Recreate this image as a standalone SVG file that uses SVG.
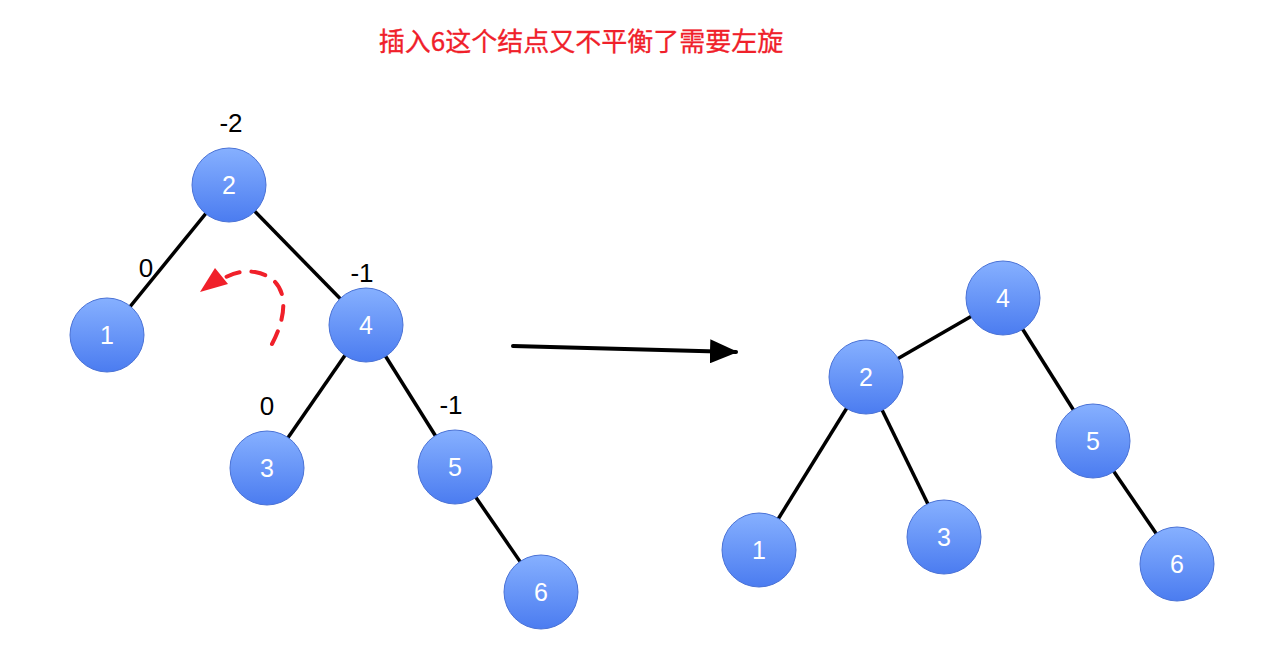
<svg xmlns="http://www.w3.org/2000/svg" width="1286" height="670" viewBox="0 0 1286 670">
<defs>
<linearGradient id="g" x1="0" y1="0" x2="0" y2="1">
<stop offset="0" stop-color="#86b0ff"/>
<stop offset="1" stop-color="#4b7cf0"/>
</linearGradient>
<marker id="ah" viewBox="0 0 28 24" refX="26" refY="12" markerWidth="28" markerHeight="24" markerUnits="userSpaceOnUse" orient="auto">
<path d="M0,0 L28,12 L0,24 z" fill="#000"/>
</marker>
</defs>
<style>
.n circle{fill:url(#g);stroke:#4a72d6;stroke-width:1}
.n text{fill:#fff;font-family:"Liberation Sans",Arial,sans-serif;font-size:25px;text-anchor:middle;dominant-baseline:central}
.e line{stroke:#000;stroke-width:3.5}
.lbl{font-family:"Liberation Sans",Arial,sans-serif;font-size:26px;fill:#000;text-anchor:middle}
</style>
<rect width="1286" height="670" fill="#fff"/>
<text x="581" y="51" fill="#f0202a" stroke="#f0202a" stroke-width="0.3" font-family="'Noto Sans CJK SC',sans-serif" font-size="26" text-anchor="middle">插入6这个结点又不平衡了需要左旋</text>
<g id="connectors" class="e">
<line x1="229" y1="185" x2="107" y2="335"/>
<line x1="229" y1="185" x2="366" y2="325"/>
<line x1="366" y1="325" x2="267" y2="468"/>
<line x1="366" y1="325" x2="455" y2="467"/>
<line x1="455" y1="467" x2="541" y2="592"/>
<line x1="1003" y1="298" x2="866" y2="377"/>
<line x1="1003" y1="298" x2="1093" y2="441"/>
<line x1="866" y1="377" x2="759" y2="550"/>
<line x1="866" y1="377" x2="944" y2="537"/>
<line x1="1093" y1="441" x2="1177" y2="564"/>
<path d="M513,346 L736,352" fill="none" stroke="#000" stroke-width="4" stroke-linecap="round" marker-end="url(#ah)"/>
<path d="M272,344 C290,310 288,278 255,272 C240,270 232,274 222,279" fill="none" stroke="#f0202a" stroke-width="4" stroke-linecap="round" stroke-dasharray="14 12"/>
<path d="M200,292 L215,268 L228,284 z" fill="#f0202a"/>
</g>
<g id="L2" class="n"><circle cx="229" cy="185" r="37"/><text x="229" y="185">2</text></g>
<g id="L1" class="n"><circle cx="107" cy="335" r="37"/><text x="107" y="335">1</text></g>
<g id="L4" class="n"><circle cx="366" cy="325" r="37"/><text x="366" y="325">4</text></g>
<g id="L3" class="n"><circle cx="267" cy="468" r="37"/><text x="267" y="468">3</text></g>
<g id="L5" class="n"><circle cx="455" cy="467" r="37"/><text x="455" y="467">5</text></g>
<g id="L6" class="n"><circle cx="541" cy="592" r="37"/><text x="541" y="592">6</text></g>
<g id="R4" class="n"><circle cx="1003" cy="298" r="37"/><text x="1003" y="298">4</text></g>
<g id="R2" class="n"><circle cx="866" cy="377" r="37"/><text x="866" y="377">2</text></g>
<g id="R5" class="n"><circle cx="1093" cy="441" r="37"/><text x="1093" y="441">5</text></g>
<g id="R1" class="n"><circle cx="759" cy="550" r="37"/><text x="759" y="550">1</text></g>
<g id="R3" class="n"><circle cx="944" cy="537" r="37"/><text x="944" y="537">3</text></g>
<g id="R6" class="n"><circle cx="1177" cy="564" r="37"/><text x="1177" y="564">6</text></g>
<text class="lbl" x="231" y="132">-2</text>
<text class="lbl" x="146" y="277">0</text>
<text class="lbl" x="362" y="282">-1</text>
<text class="lbl" x="267" y="415">0</text>
<text class="lbl" x="451" y="414">-1</text>
</svg>
